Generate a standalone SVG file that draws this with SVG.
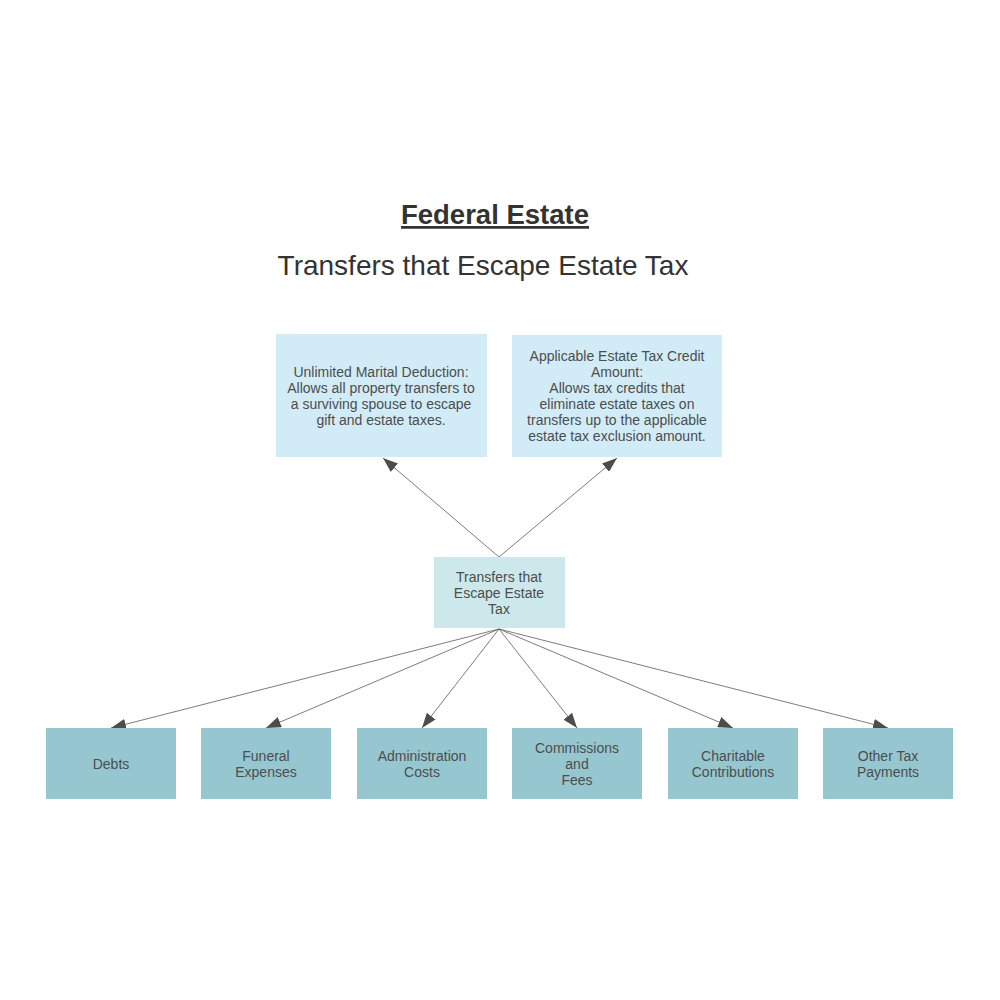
<svg xmlns="http://www.w3.org/2000/svg" width="1000" height="1000" viewBox="0 0 1000 1000">
<defs>
<marker id="ah" viewBox="0 0 15 11" refX="15" refY="5.5" markerWidth="15" markerHeight="11" markerUnits="userSpaceOnUse" orient="auto">
<path d="M0,0 L15,5.5 L0,11 z" fill="#4d4d4d"/>
</marker>
<style>
.t{font-family:"Liberation Sans",Arial,sans-serif;font-size:14px;fill:#4d4d4d;text-anchor:middle}
.top{fill:#d2ecf7}
.mid{fill:#cde8ea}
.bot{fill:#96c6d0}
.c{stroke:#5a5a5a;stroke-width:0.8;fill:none;marker-end:url(#ah)}
</style>
</defs>
<rect width="1000" height="1000" fill="#fff"/>
<text x="495" y="224" font-family="Liberation Sans,Arial,sans-serif" font-size="27.5" font-weight="bold" fill="#333" text-anchor="middle" text-decoration="underline">Federal Estate</text>
<text x="483" y="275" font-family="Liberation Sans,Arial,sans-serif" font-size="28" fill="#333" text-anchor="middle">Transfers that Escape Estate Tax</text>
<g id="connectors">
<line class="c" x1="499" y1="557" x2="383" y2="458"/>
<line class="c" x1="499" y1="557" x2="617" y2="458"/>
<line class="c" x1="499" y1="629" x2="111" y2="728"/>
<line class="c" x1="499" y1="629" x2="266" y2="728"/>
<line class="c" x1="499" y1="629" x2="422" y2="728"/>
<line class="c" x1="499" y1="629" x2="577" y2="728"/>
<line class="c" x1="499" y1="629" x2="733" y2="728"/>
<line class="c" x1="499" y1="629" x2="888" y2="728"/>
</g>
<g id="marital">
<rect class="top" x="276" y="334" width="211" height="123"/>
<text class="t" x="381" y="377">Unlimited Marital Deduction:</text>
<text class="t" x="381" y="393">Allows all property transfers to</text>
<text class="t" x="381" y="409">a surviving spouse to escape</text>
<text class="t" x="381" y="425">gift and estate taxes.</text>
</g>
<g id="credit">
<rect class="top" x="512" y="335" width="210" height="122"/>
<text class="t" x="617" y="361">Applicable Estate Tax Credit</text>
<text class="t" x="617" y="377">Amount:</text>
<text class="t" x="617" y="393">Allows tax credits that</text>
<text class="t" x="617" y="409">eliminate estate taxes on</text>
<text class="t" x="617" y="425">transfers up to the applicable</text>
<text class="t" x="617" y="441">estate tax exclusion amount.</text>
</g>
<g id="center">
<rect class="mid" x="434" y="557" width="131" height="71"/>
<text class="t" x="499" y="582">Transfers that</text>
<text class="t" x="499" y="598">Escape Estate</text>
<text class="t" x="499" y="614">Tax</text>
</g>
<g id="debts">
<rect class="bot" x="46" y="728" width="130" height="71"/>
<text class="t" x="111" y="769">Debts</text>
</g>
<g id="funeral">
<rect class="bot" x="201" y="728" width="130" height="71"/>
<text class="t" x="266" y="761">Funeral</text>
<text class="t" x="266" y="777">Expenses</text>
</g>
<g id="admin">
<rect class="bot" x="357" y="728" width="130" height="71"/>
<text class="t" x="422" y="761">Administration</text>
<text class="t" x="422" y="777">Costs</text>
</g>
<g id="commissions">
<rect class="bot" x="512" y="728" width="130" height="71"/>
<text class="t" x="577" y="753">Commissions</text>
<text class="t" x="577" y="769">and</text>
<text class="t" x="577" y="785">Fees</text>
</g>
<g id="charitable">
<rect class="bot" x="668" y="728" width="130" height="71"/>
<text class="t" x="733" y="761">Charitable</text>
<text class="t" x="733" y="777">Contributions</text>
</g>
<g id="other">
<rect class="bot" x="823" y="728" width="130" height="71"/>
<text class="t" x="888" y="761">Other Tax</text>
<text class="t" x="888" y="777">Payments</text>
</g>
</svg>
